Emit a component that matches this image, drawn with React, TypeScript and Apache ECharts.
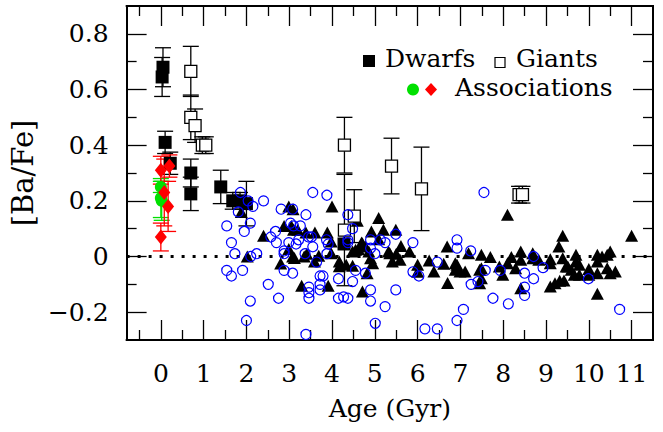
import React, { useEffect, useRef } from "react";
import * as echarts from "echarts";

const FONT = '"DejaVu Serif", "Liberation Serif", serif';

// Axis ticks
const X_MAJOR = [0, 1, 2, 3, 4, 5, 6, 7, 8, 9, 10, 11];
const X_MINOR = [-0.5, 0.5, 1.5, 2.5, 3.5, 4.5, 5.5, 6.5, 7.5, 8.5, 9.5, 10.5];
const Y_MAJOR = [-0.2, 0, 0.2, 0.4, 0.6, 0.8];
const Y_MINOR = [-0.1, 0.1, 0.3, 0.5, 0.7];

// Open clusters: [age (Gyr), [Ba/Fe], error]
const dwarfs = [
  [0.05, 0.68, 0.07],
  [0.03, 0.645, 0.07],
  [0.1, 0.41, 0.04],
  [0.22, 0.335, 0.04],
  [0.7, 0.3, 0.05],
  [0.7, 0.225, 0.06],
  [1.4, 0.25, 0.06],
  [1.68, 0.2, 0.03],
  [1.85, 0.2, 0.03],
  [2.0, 0.19, 0.08],
  [4.28, 0.045, 0],
];

const giants = [
  [0.7, 0.665, 0.09],
  [0.7, 0.5, 0.08],
  [0.8, 0.47, 0.06],
  [0.97, 0.4, 0.03],
  [1.05, 0.4, 0.03],
  [4.29, 0.4, 0.1],
  [4.29, 0.095, 0.2],
  [4.52, 0.145, 0.095],
  [5.39, 0.325, 0.1],
  [6.09, 0.243, 0.15],
  [8.37, 0.222, 0.03],
  [8.45, 0.222, 0.03],
];

// Young associations
const assocGreen = [
  [0.0, 0.21, 0.07],
  [0.02, 0.2, 0.07],
  [0.0, 0.25, 0.02],
];

const assocRed = [
  [0.0, 0.31, 0.05],
  [0.2, 0.325, 0.04],
  [0.08, 0.23, 0.12],
  [0.17, 0.18, 0.09],
  [0.0, 0.07, 0.05],
];

// Field stars: [age (Gyr), [Ba/Fe]]
const fieldTriangles = [
  [1.88, 0.16], [2.02, 0.0], [2.4, 0.075], [2.8, -0.025], [2.88, 0.11], [2.99, 0.18],
  [2.99, 0.027], [3.05, 0.11], [3.08, 0.0], [3.09, 0.17], [3.1, 0.096], [3.12, -0.005],
  [3.2, 0.096], [3.29, -0.105], [3.35, 0.0], [3.39, 0.086], [3.41, 0.01], [3.59, -0.018],
  [3.6, 0.086], [3.69, 0.003], [3.89, 0.086], [3.91, -0.105], [3.98, 0.054], [3.98, 0.012],
  [4.0, 0.18], [4.17, -0.018], [4.17, -0.035], [4.33, -0.03], [4.48, 0.018], [4.48, -0.033],
  [4.55, 0.024], [4.59, 0.128], [4.62, 0.026], [4.69, 0.05], [4.71, 0.048], [4.71, -0.126],
  [4.78, 0.036], [4.82, -0.06], [4.86, 0.018], [4.9, -0.006], [4.92, 0.09], [4.95, -0.024],
  [5.09, 0.138], [5.09, 0.062], [5.2, 0.096], [5.32, 0.018], [5.35, 0.012], [5.41, -0.018],
  [5.49, 0.096], [5.5, 0.01], [5.59, -0.012], [5.61, 0.038], [5.81, 0.018], [6.0, -0.03],
  [6.0, -0.055], [6.27, -0.014], [6.38, -0.054], [6.61, -0.026], [6.69, 0.036], [6.7, -0.095],
  [6.88, -0.024], [6.88, -0.048], [6.92, -0.03], [6.99, -0.054], [7.11, -0.054], [7.19, 0.012],
  [7.45, -0.048], [7.49, 0.006], [7.49, -0.042], [7.49, -0.078], [7.45, -0.096], [7.7, -0.002],
  [7.91, -0.036], [7.99, -0.066], [8.1, 0.15], [8.1, -0.024], [8.19, -0.002], [8.29, -0.042],
  [8.41, 0.018], [8.41, -0.012], [8.41, -0.114], [8.69, 0.012], [8.69, -0.006], [8.83, -0.012],
  [9.1, -0.01], [9.1, -0.024], [9.1, -0.108], [9.21, -0.096], [9.3, 0.036], [9.32, -0.087],
  [9.39, 0.075], [9.39, -0.006], [9.42, -0.086], [9.47, -0.036], [9.51, -0.036], [9.59, -0.048],
  [9.66, -0.066], [9.7, 0.006], [9.7, -0.018], [9.78, -0.03], [9.78, -0.066], [10.0, -0.045],
  [10.0, -0.066], [10.2, 0.006], [10.2, -0.018], [10.2, -0.06], [10.2, -0.134], [10.31, 0.0],
  [10.43, 0.006], [10.43, -0.042], [10.5, 0.018], [10.5, -0.06], [10.62, -0.054], [11.0, 0.075],
];

const fieldCircles = [
  [1.54, 0.11], [1.54, -0.05], [1.65, 0.05], [1.65, -0.07], [1.73, 0.01], [1.81, 0.16],
  [1.86, 0.23], [1.91, -0.05], [1.95, 0.09], [2.0, -0.23], [2.04, 0.2], [2.09, 0.12],
  [2.09, -0.16], [2.1, 0.0], [2.15, 0.18], [2.24, 0.01], [2.4, 0.2], [2.51, -0.1],
  [2.57, 0.07], [2.68, 0.09], [2.7, 0.05], [2.75, -0.15], [2.81, 0.17], [2.88, 0.02],
  [2.88, 0.01], [2.88, -0.05], [2.99, 0.05], [3.03, 0.12], [3.08, 0.17], [3.08, -0.06],
  [3.1, 0.11], [3.16, 0.045], [3.22, 0.06], [3.26, 0.11], [3.37, 0.01], [3.39, 0.15],
  [3.39, -0.28], [3.45, 0.07], [3.46, -0.11], [3.46, -0.13], [3.46, -0.15], [3.52, 0.07],
  [3.55, 0.23], [3.55, 0.035], [3.64, -0.02], [3.72, -0.07], [3.72, -0.1], [3.72, -0.12],
  [3.79, -0.07], [3.87, 0.06], [3.88, 0.22], [3.88, 0.01], [3.91, 0.045], [4.15, -0.08],
  [4.15, -0.15], [4.27, -0.145], [4.37, 0.15], [4.37, 0.06], [4.37, 0.05], [4.37, -0.15],
  [4.48, 0.1], [4.48, -0.09], [4.55, -0.05], [4.78, -0.06], [4.9, 0.06], [4.9, 0.03],
  [4.9, -0.12], [4.9, -0.16], [5.0, 0.01], [5.01, -0.24], [5.13, 0.06], [5.24, 0.05],
  [5.24, -0.18], [5.49, 0.08], [5.49, -0.12], [5.89, 0.05], [5.89, -0.055], [6.03, -0.07],
  [6.17, -0.26], [6.46, -0.02], [6.46, -0.26], [6.92, 0.06], [6.92, 0.03], [6.92, -0.23],
  [7.07, -0.19], [7.24, 0.02], [7.25, -0.1], [7.41, -0.09], [7.55, 0.23], [7.58, -0.05],
  [7.76, -0.15], [7.93, -0.05], [8.12, -0.17], [8.5, -0.06], [8.5, -0.11], [8.5, -0.14],
  [8.71, 0.0], [8.71, -0.08], [8.93, -0.04], [9.99, -0.08], [10.72, -0.19],
];

const X_MIN = -0.8;
const X_MAX = 11.5;
const Y_MIN = -0.3;
const Y_MAX = 0.9;

const fmtY = (v: number) =>
  Math.abs(v) < 1e-9 ? "0" : (v < 0 ? "\u2212" : "") + Math.abs(v).toFixed(1);

function errorBars(data: number[][], color: string) {
  return {
    type: "custom",
    xAxisIndex: 0,
    yAxisIndex: 0,
    silent: true,
    z: 2,
    data: data.filter((d) => d[2] > 0),
    renderItem: (_params: any, api: any) => {
      const x = api.value(0);
      const y = api.value(1);
      const e = api.value(2);
      const top = api.coord([x, y + e]);
      const bot = api.coord([x, y - e]);
      const hw = 8;
      const style = { stroke: color, lineWidth: 1.3 };
      return {
        type: "group",
        children: [
          { type: "line", shape: { x1: top[0], y1: top[1], x2: bot[0], y2: bot[1] }, style },
          { type: "line", shape: { x1: top[0] - hw, y1: top[1], x2: top[0] + hw, y2: top[1] }, style },
          { type: "line", shape: { x1: bot[0] - hw, y1: bot[1], x2: bot[0] + hw, y2: bot[1] }, style },
        ],
      };
    },
  };
}

const pts = (d: number[][]) => d.map((r) => [r[0], r[1]]);

function xAxisDef(position: "bottom" | "top", ticks: number[], len: number, main: boolean) {
  return {
    type: "value",
    position,
    min: X_MIN,
    max: X_MAX,
    splitLine: { show: false },
    axisLine: { show: true, onZero: false, lineStyle: { color: "#000", width: 2 } },
    axisTick: { show: true, inside: true, length: len, customValues: ticks, lineStyle: { color: "#000", width: 1.3 } },
    axisLabel: {
      show: main,
      customValues: ticks,
      margin: 21,
      color: "#000",
      fontFamily: FONT,
      fontSize: 25,
    },
    name: main ? "Age (Gyr)" : "",
    nameLocation: "middle",
    nameGap: 56,
    nameTextStyle: { color: "#000", fontFamily: FONT, fontSize: 25 },
  };
}

function yAxisDef(position: "left" | "right", ticks: number[], len: number, main: boolean) {
  return {
    type: "value",
    position,
    min: Y_MIN,
    max: Y_MAX,
    splitLine: { show: false },
    axisLine: { show: true, onZero: false, lineStyle: { color: "#000", width: 2 } },
    axisTick: { show: true, inside: true, length: len, customValues: ticks, lineStyle: { color: "#000", width: 1.3 } },
    axisLabel: {
      show: main,
      customValues: ticks,
      margin: 18,
      color: "#000",
      fontFamily: FONT,
      fontSize: 25,
      formatter: fmtY,
    },
    name: main ? "[Ba/Fe]" : "",
    nameLocation: "middle",
    nameGap: 70,
    nameTextStyle: { color: "#000", fontFamily: FONT, fontSize: 29 },
  };
}

export default function App() {
  const ref = useRef<HTMLDivElement>(null);

  useEffect(() => {
    if (!ref.current) return;
    const chart = echarts.init(ref.current, null, { renderer: "svg" });
    const textStyle = (text: string, x: number, y: number) => ({
      type: "text",
      style: { text, x, y, fill: "#000", fontFamily: FONT, fontSize: 25, verticalAlign: "middle" },
    });

    chart.setOption({
      animation: false,
      backgroundColor: "#fff",
      grid: { left: 116, right: 10, top: 6, bottom: 92, containLabel: false },
      xAxis: [
        xAxisDef("bottom", X_MAJOR, 20, true),
        xAxisDef("bottom", X_MINOR, 10, false),
        xAxisDef("top", X_MAJOR, 20, false),
        xAxisDef("top", X_MINOR, 10, false),
      ],
      yAxis: [
        yAxisDef("left", Y_MAJOR, 20, true),
        yAxisDef("left", Y_MINOR, 10, false),
        yAxisDef("right", Y_MAJOR, 20, false),
        yAxisDef("right", Y_MINOR, 10, false),
      ],
      series: [
        {
          type: "line",
          xAxisIndex: 0,
          yAxisIndex: 0,
          data: [[X_MIN, 0], [X_MAX, 0]],
          symbol: "none",
          silent: true,
          z: 1,
          lineStyle: { color: "#000", width: 3, type: [3, 8] },
        },
        errorBars(dwarfs, "#000"),
        errorBars(giants, "#000"),
        errorBars(assocGreen, "#00e000"),
        errorBars(assocRed, "#ff0000"),
        {
          type: "scatter",
          xAxisIndex: 0,
          yAxisIndex: 0,
          data: fieldTriangles,
          symbol: "triangle",
          symbolSize: [13, 12],
          itemStyle: { color: "#000", opacity: 1 },
          z: 3,
        },
        {
          type: "scatter",
          xAxisIndex: 0,
          yAxisIndex: 0,
          data: fieldCircles,
          symbol: "circle",
          symbolSize: 10,
          itemStyle: { color: "rgba(0,0,0,0)", borderColor: "#0000ff", borderWidth: 1.2, opacity: 1 },
          z: 4,
        },
        {
          type: "scatter",
          xAxisIndex: 0,
          yAxisIndex: 0,
          data: pts(dwarfs),
          symbol: "rect",
          symbolSize: 13,
          itemStyle: { color: "#000", opacity: 1 },
          z: 3,
        },
        {
          type: "scatter",
          xAxisIndex: 0,
          yAxisIndex: 0,
          data: pts(giants),
          symbol: "rect",
          symbolSize: 12,
          itemStyle: { color: "#fff", borderColor: "#000", borderWidth: 1.3, opacity: 1 },
          z: 3,
        },
        {
          type: "scatter",
          xAxisIndex: 0,
          yAxisIndex: 0,
          data: pts(assocGreen),
          symbol: "circle",
          symbolSize: 12,
          itemStyle: { color: "#00e000", opacity: 1 },
          z: 5,
        },
        {
          type: "scatter",
          xAxisIndex: 0,
          yAxisIndex: 0,
          data: pts(assocRed),
          symbol: "diamond",
          symbolSize: [12, 15],
          itemStyle: { color: "#ff0000", opacity: 1 },
          z: 6,
        },
      ],
      graphic: [
        { type: "rect", shape: { x: 363, y: 55, width: 12, height: 12 }, style: { fill: "#000" } },
        textStyle("Dwarfs", 385, 58),
        { type: "rect", shape: { x: 495, y: 57.5, width: 10, height: 10 }, style: { fill: "none", stroke: "#000", lineWidth: 1.2 } },
        textStyle("Giants", 516, 58),
        { type: "circle", shape: { cx: 413, cy: 89.5, r: 6 }, style: { fill: "#00e000" } },
        {
          type: "polygon",
          shape: { points: [[431, 83], [437, 89.5], [431, 96], [425, 89.5]] },
          style: { fill: "#ff0000" },
        },
        textStyle("Associations", 455, 87),
      ],
    });

    return () => chart.dispose();
  }, []);

  return (
    <div
      ref={ref}
      style={{ position: "absolute", left: 0, top: 0, width: 663, height: 432, background: "#fff" }}
    />
  );
}
